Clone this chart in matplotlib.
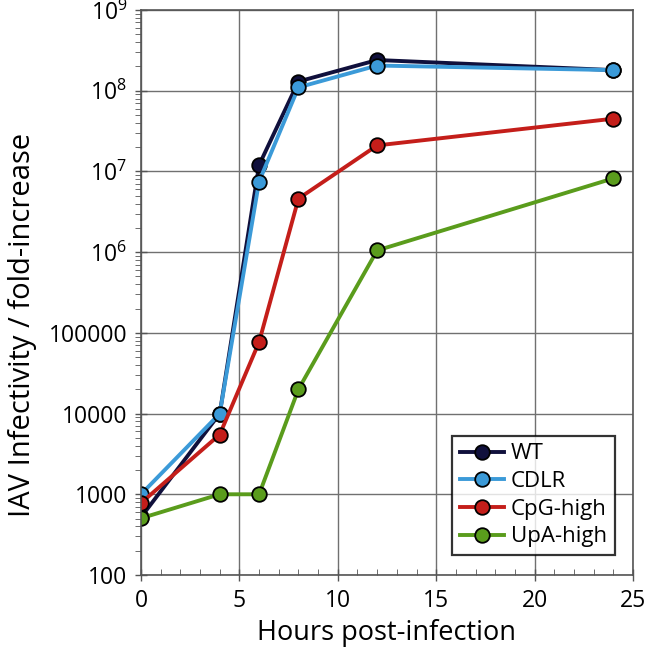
import numpy as np
import matplotlib.pyplot as plt
from matplotlib.ticker import FixedLocator, FuncFormatter, LogLocator

plt.rcParams['font.family'] = ['Open Sans', 'DejaVu Sans']

# data
hours = [0, 4, 6, 8, 12, 24]
wt = [520, 10000, 1.2e7, 1.3e8, 2.4e8, 1.8e8]
cdlr = [1000, 10000, 7.5e6, 1.1e8, 2.05e8, 1.8e8]
cpg_high = [780, 5500, 77000, 4.6e6, 2.1e7, 4.5e7]
upa_high = [505, 1000, 1000, 20000, 1.05e6, 8.2e6]

series = [("WT", wt, "#10103c"),
          ("CDLR", cdlr, "#3b9ad8"),
          ("CpG-high", cpg_high, "#c41e1a"),
          ("UpA-high", upa_high, "#5a9c1c")]

fig = plt.figure(figsize=(6.49, 6.57), dpi=100)
ax = fig.add_axes([0.2173, 0.1248, 0.758, 0.86])

for name, vals, col in series:
    ax.plot(hours, vals, color=col, lw=2.8, marker='o', ms=10.5,
            markerfacecolor=col, markeredgecolor='black', markeredgewidth=1.3,
            label=name)

ax.set_yscale('log')
ax.set_ylim(100, 1e9)
ax.set_xlim(0, 25)
ax.set_xticks([0, 5, 10, 15, 20, 25])
ax.xaxis.set_minor_locator(FixedLocator(np.arange(0, 26, 1)))
ax.yaxis.set_minor_locator(LogLocator(base=10, subs=np.arange(2, 10)))


def fmt(v, pos):
    e = int(round(np.log10(v)))
    if e <= 5:
        return str(int(round(v)))
    return r'$\mathregular{10^{%d}}$' % e


ax.yaxis.set_major_formatter(FuncFormatter(fmt))
ax.grid(True, which='major', color='#707070', lw=1)
ax.set_axisbelow(True)

ax.tick_params(axis='both', which='major', direction='inout', length=8,
               width=1, labelsize=16.5, color='#555555')
ax.tick_params(axis='y', which='major', pad=6)
ax.tick_params(axis='x', which='major', pad=6)
ax.tick_params(axis='x', which='minor', direction='in', length=4, color='#555555')
ax.tick_params(axis='y', which='minor', direction='out', length=4, color='#555555')
for s in ax.spines.values():
    s.set_color('#555555')
    s.set_linewidth(1.2)

ax.set_xlabel('Hours post-infection', fontsize=19.5)
ax.set_ylabel('IAV Infectivity / fold-increase', fontsize=21)
ax.xaxis.set_label_coords(0.5, -0.078)
ax.yaxis.set_label_coords(-0.212, 0.442)

leg = ax.legend(loc='lower right', bbox_to_anchor=(0.963, 0.035), fontsize=16,
                frameon=True, fancybox=False, handlelength=2.0,
                handletextpad=0.3, labelspacing=0.3, borderpad=0.35,
                borderaxespad=0)
leg.get_frame().set_edgecolor('black')
leg.get_frame().set_linewidth(1.6)

fig.savefig('out.png', dpi=100)
